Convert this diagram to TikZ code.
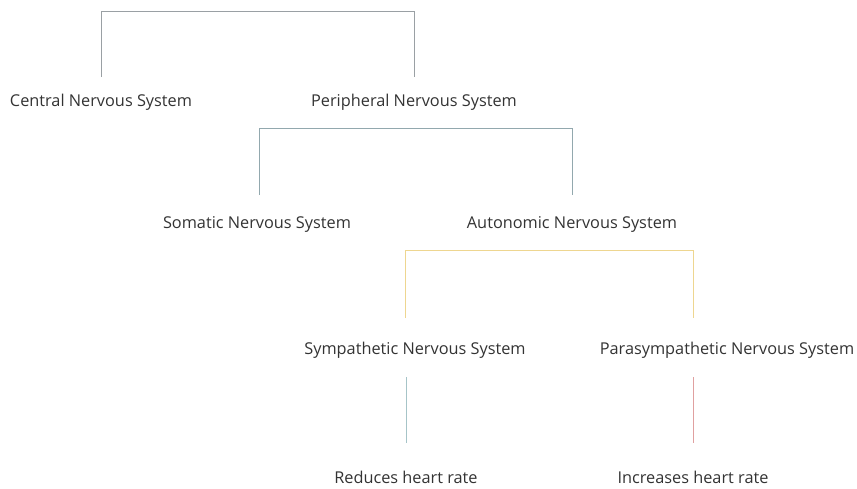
\documentclass[tikz,border=0pt]{standalone}
\usepackage{fontspec}
\setmainfont{Open Sans}
\definecolor{cTop}{HTML}{9AA0A4}
\definecolor{cMid}{HTML}{92A8AE}
\definecolor{cYel}{HTML}{EED690}
\definecolor{cBlu}{HTML}{A6C4C8}
\definecolor{cRed}{HTML}{E0A0A0}
\definecolor{cTxt}{HTML}{333333}
\begin{document}
\begin{tikzpicture}[x=1pt,y=-1pt,
  lbl/.style={font=\fontsize{16.3}{19}\selectfont, text=cTxt, inner sep=0pt, anchor=center},
  conn/.style={line width=1pt}]
\useasboundingbox (0,0) rectangle (857,488);
\node[lbl] (cns) at (101,102) {Central Nervous System};
\node[lbl] (pns) at (414,102) {Peripheral Nervous System};
\node[lbl] (sns) at (257,224) {Somatic Nervous System};
\node[lbl] (ans) at (572,224) {Autonomic Nervous System};
\node[lbl] (sym) at (415,350) {Sympathetic Nervous System};
\node[lbl] (par) at (727,350) {Parasympathetic Nervous System};
\node[lbl] (red) at (406,477) {Reduces heart rate};
\node[lbl] (inc) at (693,477) {Increases heart rate};
\coordinate (t1) at (101,11);
\coordinate (t2) at (414,11);
\coordinate (m1) at (259,128);
\coordinate (m2) at (572,128);
\coordinate (y1) at (405,250);
\coordinate (y2) at (693,250);
\draw[conn,cTop] (t1 |- 0,77) -- (t1) -- (t2) -- (t2 |- 0,77);
\draw[conn,cMid] (m1 |- 0,195) -- (m1) -- (m2) -- (m2 |- 0,195);
\draw[conn,cYel] (y1 |- 0,318) -- (y1) -- (y2) -- (y2 |- 0,318);
\coordinate (b1) at (406,377);
\coordinate (b2) at (693,377);
\draw[conn,cBlu] (b1) -- (b1 |- 0,443);
\draw[conn,cRed] (b2) -- (b2 |- 0,443);
\end{tikzpicture}
\end{document}
